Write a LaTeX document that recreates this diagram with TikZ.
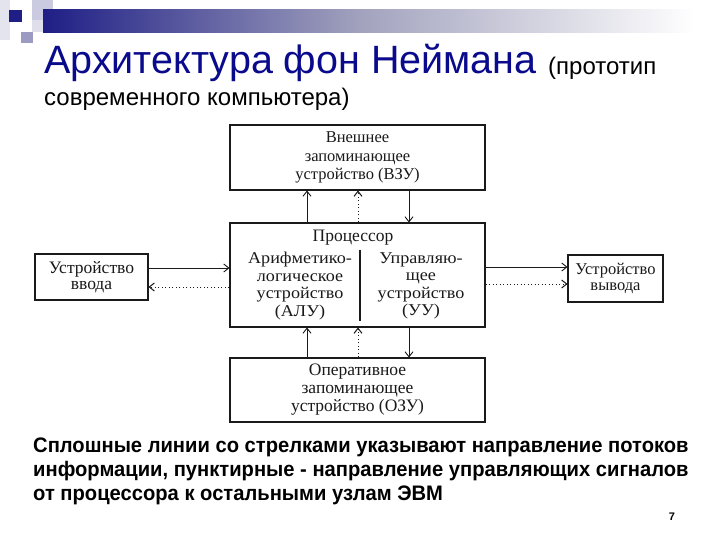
\documentclass[tikz,border=0pt]{standalone}
\usepackage{fontspec}
\setmainfont{Liberation Serif}
\newfontfamily\arialf{Liberation Sans}
\newfontfamily\arialn[FakeStretch=0.96]{Liberation Sans}
\newfontfamily\widef[FakeStretch=1.1]{Liberation Serif}
\usetikzlibrary{arrows.meta,calc}
\definecolor{navy}{HTML}{0A0A8C}
\definecolor{lav}{HTML}{CACAE0}
\definecolor{lavd}{HTML}{9A9AC2}
\definecolor{barl}{HTML}{1E1E86}
\definecolor{barm}{HTML}{A2A2BE}
\definecolor{ink}{HTML}{1A1A1A}
\begin{document}
\begin{tikzpicture}[x=1pt,y=-1pt,
  blk/.style={draw=ink, line width=1.1pt, rectangle, inner sep=0pt, align=center, text=ink},
  lbl/.style={inner sep=0pt, align=center, text=ink},
  arr/.style={draw=ink, line width=0.9pt, -{Straight Barb[length=5pt,width=8pt]}},
  darr/.style={arr, line width=1pt, dash pattern=on 1.3pt off 2.2pt}
]
\useasboundingbox (0,0) rectangle (720,540);
\fill[white] (0,0) rectangle (720,540);
% decoration
\fill[lav!50] (0,0) rectangle (10,40);
\fill[lav] (32,0) rectangle (53,20);
\fill[lav!60] (32,20) rectangle (43,32);
\fill[barl] (9,10) rectangle (22,22);
\fill[lavd] (21,32) rectangle (33,43);
\shade[left color=barl, right color=barm] (43,10) rectangle (360,33);
\shade[left color=barm, right color=white] (360,10) rectangle (695,33);
% title
\node[anchor=base west, inner sep=0pt, text=navy, font=\arialf\fontsize{39.5}{44}\selectfont] (t1) at (44,74) {Архитектура фон Неймана};
\node[anchor=base west, inner sep=0pt, font=\arialf\fontsize{24}{28}\selectfont] (t2) at (548,75) {(прототип};
\node[anchor=base west, inner sep=0pt, font=\arialf\fontsize{24}{28}\selectfont] (t3) at (44,106) {современного компьютера)};
% boxes
\node[blk, minimum width=255pt, minimum height=65pt, font=\fontsize{16.5}{18.5}\selectfont] (vzu) at (357.5,157.5) {Внешнее\\запоминающее\\устройство (ВЗУ)};
\node[blk, minimum width=255pt, minimum height=104pt] (cpu) at (357.5,275) {};
\node[blk, minimum width=255pt, minimum height=64pt, font=\fontsize{17.5}{18}\selectfont] (ozu) at (357.5,390) {Оперативное\\запоминающее\\устройство (ОЗУ)};
\node[blk, minimum width=113pt, minimum height=46pt, font=\fontsize{17.5}{16}\selectfont] (inp) at (91.5,277) {Устройство\\ввода};
\node[blk, minimum width=95pt, minimum height=47pt, font=\fontsize{16.5}{16}\selectfont] (out) at (615.5,278.5) {Устройство\\вывода};
% processor content
\node[lbl, font=\fontsize{17.5}{18}\selectfont] (cpl) at (353,238) {Процессор};
\node[lbl, font=\widef\fontsize{16.5}{17.5}\selectfont] (alu) at (300,286) {Арифметико-\\логическое\\устройство\\(АЛУ)};
\node[lbl, font=\widef\fontsize{16.5}{17.5}\selectfont] (uu) at (421,286) {Управляю-\\щее\\устройство\\(УУ)};
\coordinate (d1) at (360,250);
\coordinate (d2) at (360,321);
\draw[ink, line width=1.1pt] (d1) -- (d2);
% vertical arrows
\draw[arr] ($(cpu.north)+(-50.5,0)$) -- ($(vzu.south)+(-50.5,0)$);
\draw[darr] ($(cpu.north)+(0.5,0)$) -- ($(vzu.south)+(0.5,0)$);
\draw[arr] ($(vzu.south)+(51.5,0)$) -- ($(cpu.north)+(51.5,0)$);
\draw[arr] ($(ozu.north)+(-50.5,0)$) -- ($(cpu.south)+(-50.5,0)$);
\draw[darr] ($(ozu.north)+(0.5,0)$) -- ($(cpu.south)+(0.5,0)$);
\draw[arr] ($(cpu.south)+(51.5,0)$) -- ($(ozu.north)+(51.5,0)$);
% horizontal arrows
\coordinate (h1) at (0,268);
\coordinate (h2) at (0,287);
\coordinate (h3) at (0,267);
\coordinate (h4) at (0,284);
\draw[arr] (inp.east |- h1) -- (cpu.west |- h1);
\draw[darr] (cpu.west |- h2) -- (inp.east |- h2);
\draw[arr] (cpu.east |- h3) -- (out.west |- h3);
\draw[darr] (cpu.east |- h4) -- (out.west |- h4);
% footnote
\node[anchor=base west, inner sep=0pt, align=left, font=\arialn\bfseries\fontsize{21}{24}\selectfont] (note) at (33,500) {Сплошные линии со стрелками указывают направление потоков\\информации, пунктирные - направление управляющих сигналов\\от процессора к остальными узлам ЭВМ};
\node[anchor=base, inner sep=0pt, font=\arialf\bfseries\fontsize{11}{12}\selectfont] (pg) at (672,520) {7};
\end{tikzpicture}
\end{document}
